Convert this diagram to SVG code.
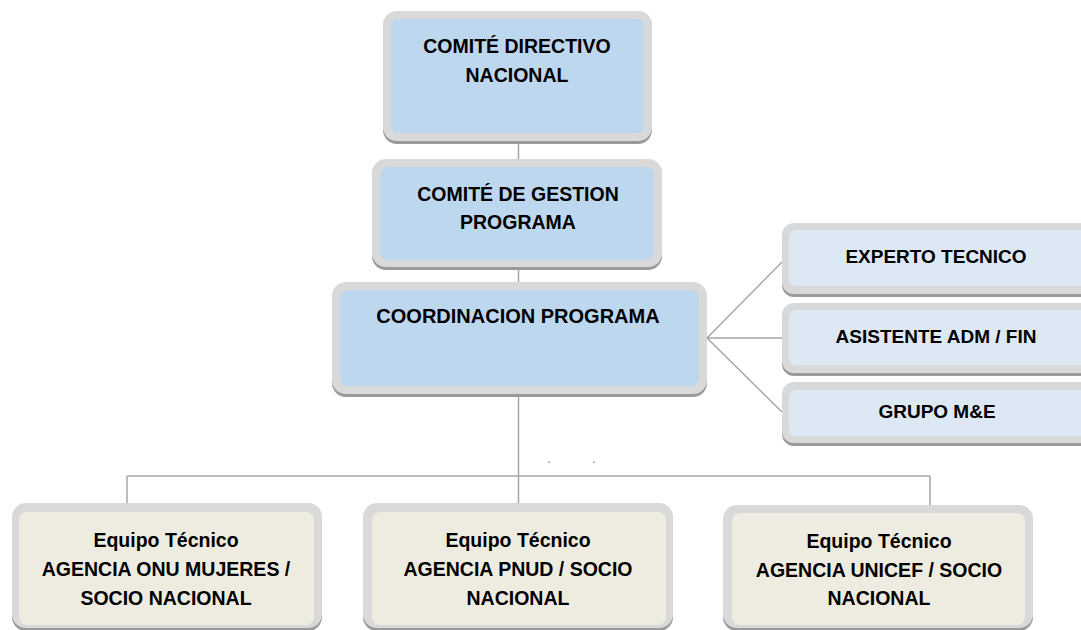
<svg xmlns="http://www.w3.org/2000/svg" width="1081" height="630" viewBox="0 0 1081 630">
<style>
.sh{fill:#9a9a9a}
.bd{fill:#d9d9d9}
.blue{fill:#bdd7ee}
.lblue{fill:#dde8f5}
.beige{fill:#eeece1}
.t{font-family:"Liberation Sans",Arial,sans-serif;font-weight:bold;font-size:19.5px;fill:#000;text-anchor:middle}
.c{stroke:#a6a6a6;stroke-width:1.5;fill:none}
</style>
<rect width="1081" height="630" fill="#fff"/>
<g id="connectors">
<path class="c" d="M518.5 141V159M518.5 267V282M518.5 394V503M127 476H930M127 476V503M930 476V505"/>
<path class="c" d="M707 338L782 262M707 338H782M707 338L782 412"/>
<rect x="548.5" y="461.5" width="1" height="1.5" fill="#555"/>
<rect x="593.5" y="461.5" width="1" height="1.5" fill="#555"/>
</g>
<g id="comite-directivo">
<rect class="sh" x="383" y="14" width="269" height="130" rx="14"/>
<rect class="bd" x="383" y="11" width="269" height="130" rx="14"/>
<rect class="blue" x="391" y="19" width="253" height="114" rx="8"/>
<text class="t" x="517" y="53">COMITÉ DIRECTIVO</text>
<text class="t" x="517" y="82">NACIONAL</text>
</g>
<g id="comite-gestion">
<rect class="sh" x="372" y="162" width="290" height="108" rx="14"/>
<rect class="bd" x="372" y="159" width="290" height="108" rx="14"/>
<rect class="blue" x="380" y="167" width="274" height="93" rx="8"/>
<text class="t" x="518" y="201">COMITÉ DE GESTION</text>
<text class="t" x="518" y="229">PROGRAMA</text>
</g>
<g id="coordinacion">
<rect class="sh" x="332" y="285" width="375" height="112" rx="14"/>
<rect class="bd" x="332" y="282" width="375" height="112" rx="14"/>
<rect class="blue" x="340" y="290" width="359" height="96" rx="8"/>
<text class="t" x="518" y="323" style="font-size:20px">COORDINACION PROGRAMA</text>
</g>
<g id="experto">
<rect class="sh" x="782" y="226" width="320" height="71" rx="12"/>
<rect class="bd" x="782" y="223" width="320" height="71" rx="12"/>
<rect class="lblue" x="789" y="230" width="310" height="56" rx="7"/>
<text class="t" x="936" y="263" style="font-size:19px">EXPERTO TECNICO</text>
</g>
<g id="asistente">
<rect class="sh" x="782" y="306" width="320" height="70" rx="12"/>
<rect class="bd" x="782" y="303" width="320" height="70" rx="12"/>
<rect class="lblue" x="789" y="310" width="310" height="55" rx="7"/>
<text class="t" x="936" y="343" style="font-size:19px">ASISTENTE ADM / FIN</text>
</g>
<g id="grupo-me">
<rect class="sh" x="782" y="385" width="320" height="61" rx="12"/>
<rect class="bd" x="782" y="382" width="320" height="61" rx="12"/>
<rect class="lblue" x="789" y="390" width="310" height="46" rx="7"/>
<text class="t" x="937" y="418" style="font-size:19px">GRUPO M&amp;E</text>
</g>
<g id="equipo-onu">
<rect class="sh" x="12" y="506" width="310" height="125" rx="14"/>
<rect class="bd" x="12" y="503" width="310" height="125" rx="14"/>
<rect class="beige" x="19" y="512" width="295" height="113" rx="8"/>
<text class="t" x="166" y="547">Equipo Técnico</text>
<text class="t" x="166" y="576">AGENCIA ONU MUJERES /</text>
<text class="t" x="166" y="605">SOCIO NACIONAL</text>
</g>
<g id="equipo-pnud">
<rect class="sh" x="363" y="506" width="310" height="125" rx="14"/>
<rect class="bd" x="363" y="503" width="310" height="125" rx="14"/>
<rect class="beige" x="372" y="512" width="294" height="113" rx="8"/>
<text class="t" x="518" y="547">Equipo Técnico</text>
<text class="t" x="518" y="576">AGENCIA PNUD / SOCIO</text>
<text class="t" x="518" y="605">NACIONAL</text>
</g>
<g id="equipo-unicef">
<rect class="sh" x="723" y="508" width="310" height="123" rx="14"/>
<rect class="bd" x="723" y="505" width="310" height="123" rx="14"/>
<rect class="beige" x="732" y="513" width="293" height="112" rx="8"/>
<text class="t" x="879" y="548">Equipo Técnico</text>
<text class="t" x="879" y="577">AGENCIA UNICEF / SOCIO</text>
<text class="t" x="879" y="605">NACIONAL</text>
</g>
</svg>
